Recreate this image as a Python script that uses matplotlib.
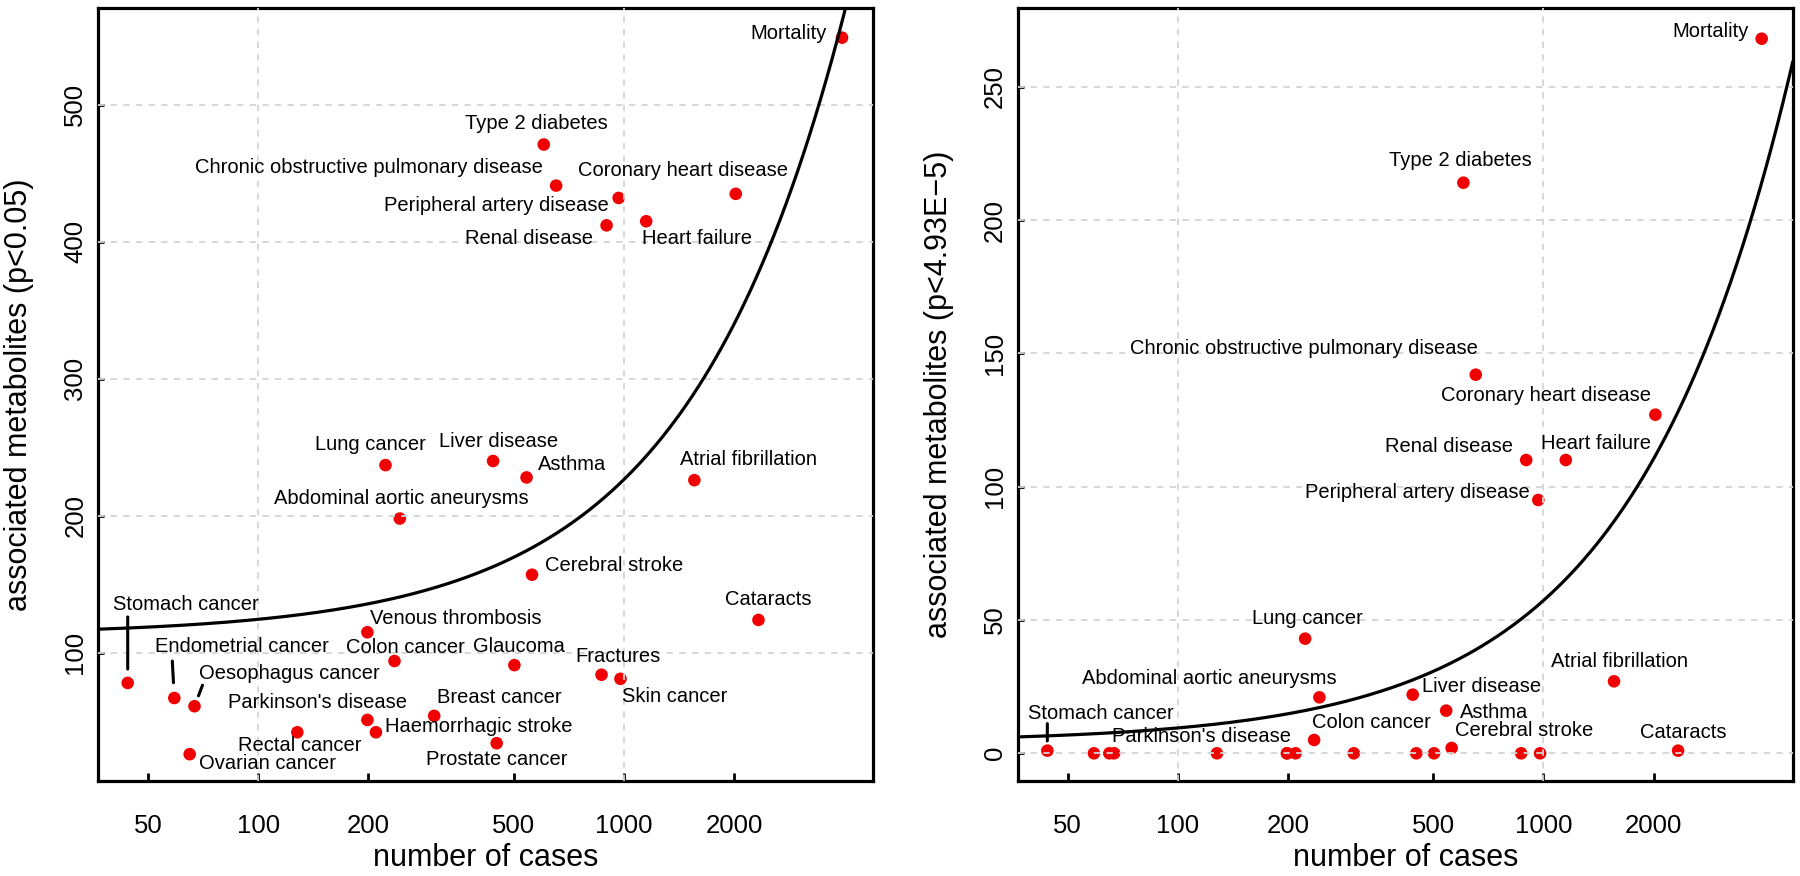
import matplotlib
matplotlib.use("Agg")
import matplotlib.pyplot as plt
import numpy as np

plt.rcParams['font.family'] = ['Liberation Sans', 'DejaVu Sans']

# data
diseases = ['Mortality', 'Type 2 diabetes', 'Chronic obstructive pulmonary disease',
            'Peripheral artery disease', 'Coronary heart disease', 'Heart failure',
            'Renal disease', 'Lung cancer', 'Liver disease', 'Asthma',
            'Atrial fibrillation', 'Abdominal aortic aneurysms', 'Cerebral stroke',
            'Cataracts', 'Venous thrombosis', 'Colon cancer', 'Glaucoma', 'Fractures',
            'Skin cancer', 'Stomach cancer', 'Endometrial cancer', 'Oesophagus cancer',
            "Parkinson's disease", 'Haemorrhagic stroke', 'Breast cancer',
            'Rectal cancer', 'Prostate cancer', 'Ovarian cancer']
cases = [3950, 604, 653, 968, 2023, 1151, 897, 223, 439, 542,
         1559, 244, 561, 2334, 199, 236, 502, 869,
         979, 44, 59, 67, 199, 210, 303,
         128, 449, 65]
metab_p05 = [549, 471, 441, 432, 435, 415, 412, 237, 240, 228,
             226, 198, 157, 124, 115, 94, 91, 84,
             81, 78, 67, 61, 51, 42, 54,
             42, 34, 26]
metab_strict = [268, 214, 142, 95, 127, 110, 110, 43, 22, 16,
                27, 21, 2, 1, 0, 5, 0, 0,
                0, 1, 0, 0, 0, 0, 0,
                0, 0, 0]

x_ticks = [50, 100, 200, 500, 1000, 2000]
x_grid = [100, 1000]
y_ticks_left = [100, 200, 300, 400, 500]
y_ticks_right = [0, 50, 100, 150, 200, 250]

# label placement: offset in pixels from the point, horizontal alignment
labels_left = {
    'Mortality': (-15, 4, 'right'),
    'Type 2 diabetes': (-7, 21, 'center'),
    'Chronic obstructive pulmonary disease': (-13, 18, 'right'),
    'Coronary heart disease': (-53, 23, 'center'),
    'Peripheral artery disease': (-10, -8, 'right'),
    'Renal disease': (-14, -13, 'right'),
    'Heart failure': (-4, -17, 'left'),
    'Lung cancer': (-15, 21, 'center'),
    'Liver disease': (5, 19, 'center'),
    'Asthma': (11, 13, 'left'),
    'Atrial fibrillation': (54, 21, 'center'),
    'Abdominal aortic aneurysms': (2, 20, 'center'),
    'Cerebral stroke': (13, 9, 'left'),
    'Cataracts': (10, 20, 'center'),
    'Venous thrombosis': (3, 14, 'left'),
    'Colon cancer': (11, 14, 'center'),
    'Glaucoma': (5, 19, 'center'),
    'Fractures': (16, 18, 'center'),
    'Skin cancer': (2, -18, 'left'),
    'Stomach cancer': (58, 78, 'center'),
    'Endometrial cancer': (68, 52, 'center'),
    'Oesophagus cancer': (5, 33, 'left'),
    "Parkinson's disease": (-50, 17, 'center'),
    'Haemorrhagic stroke': (9, 6, 'left'),
    'Breast cancer': (65, 18, 'center'),
    'Rectal cancer': (2, -13, 'center'),
    'Prostate cancer': (0, -16, 'center'),
    'Ovarian cancer': (9, -9, 'left'),
}
labels_right = {
    'Mortality': (-13, 7, 'right'),
    'Type 2 diabetes': (-3, 22, 'center'),
    'Chronic obstructive pulmonary disease': (2, 26, 'right'),
    'Coronary heart disease': (-4, 19, 'right'),
    'Renal disease': (-13, 14, 'right'),
    'Heart failure': (30, 17, 'center'),
    'Peripheral artery disease': (-9, 8, 'right'),
    'Lung cancer': (2, 20, 'center'),
    'Abdominal aortic aneurysms': (17, 19, 'right'),
    'Liver disease': (9, 8, 'left'),
    'Asthma': (14, -2, 'left'),
    'Atrial fibrillation': (6, 20, 'center'),
    'Colon cancer': (57, 17, 'center'),
    'Cerebral stroke': (3, 17, 'left'),
    'Cataracts': (5, 18, 'center'),
    'Stomach cancer': (54, 37, 'center'),
    "Parkinson's disease": (4, 17, 'right'),
}
# leader lines: start offset (px) and gap left near the point (pt)
leaders_left = {
    'Stomach cancer': (0, 66, 10),
    'Endometrial cancer': (-2, 37, 11),
    'Oesophagus cancer': (8, 21, 8),
}
leaders_right = {
    'Stomach cancer': (0, 27, 7),
}


def panel(ax, yvals, ylabel, yticks, ylim, labels, leaders):
    xlim = (36.6, 4800)
    ax.set_xscale('log')
    ax.set_xlim(*xlim)
    ax.set_ylim(*ylim)

    ax.scatter(cases, yvals, s=82, color='#f00000', edgecolors='none', zorder=2)

    for g in x_grid:
        ax.axvline(g, color='#d4d4d4', lw=1.3, ls=(0, (3.5, 3.5)), zorder=3)
    for g in yticks:
        ax.axhline(g, color='#d4d4d4', lw=1.3, ls=(0, (3.5, 3.5)), zorder=3)

    coef = np.polyfit(cases, yvals, 1)
    xs = np.logspace(np.log10(xlim[0]), np.log10(xlim[1]), 400)
    ax.plot(xs, np.polyval(coef, xs), color='black', lw=2.3, zorder=4)

    for name, x, y in zip(diseases, cases, yvals):
        if name in labels:
            dx, dy, ha = labels[name]
            ax.annotate(name, (x, y), xytext=(dx, dy), textcoords='offset pixels',
                        ha=ha, va='center', fontsize=14.5, zorder=5)
        if name in leaders:
            lx, ly, gap = leaders[name]
            ax.annotate('', (x, y), xytext=(lx, ly), textcoords='offset pixels',
                        arrowprops=dict(arrowstyle='-', lw=2.2, color='black',
                                        shrinkA=0, shrinkB=gap), zorder=5)

    ax.set_xticks(x_ticks)
    ax.set_xticklabels([str(t) for t in x_ticks])
    ax.xaxis.set_minor_locator(matplotlib.ticker.NullLocator())
    ax.set_yticks(yticks)
    ax.tick_params(axis='x', direction='in', length=6, width=2, pad=24, labelsize=18.5)
    ax.tick_params(axis='y', direction='in', length=4, width=2, pad=8, labelsize=18.5,
                   labelrotation=90)
    for lab in ax.get_yticklabels():
        lab.set_va('center')
    for s in ax.spines.values():
        s.set_linewidth(2.3)

    ax.set_xlabel('number of cases', fontsize=22)
    ax.set_ylabel(ylabel, fontsize=22)
    ax.xaxis.set_label_coords(0.5, -0.080)
    ax.yaxis.set_label_coords(-0.083, 0.5)


fig = plt.figure(figsize=(18, 8.76), dpi=100)
ax1 = fig.add_axes([0.0547, 0.1084, 0.4303, 0.8824])
ax2 = fig.add_axes([0.5656, 0.1084, 0.4303, 0.8824])

panel(ax1, metab_p05, 'associated metabolites (p<0.05)', y_ticks_left, (6.4, 570.6),
      labels_left, leaders_left)
panel(ax2, metab_strict, 'associated metabolites (p<4.93E\u22125)', y_ticks_right,
      (-10.4, 279.5), labels_right, leaders_right)

fig.savefig('out.png', dpi=100)
